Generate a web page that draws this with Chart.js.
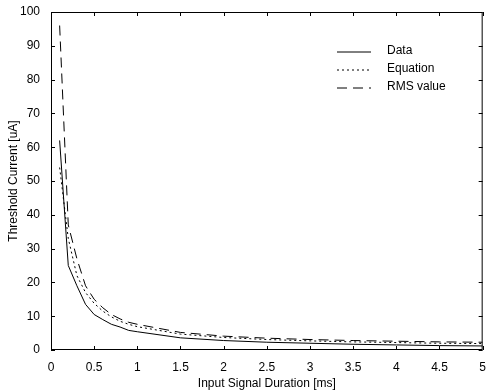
<!DOCTYPE html>
<html>
<head>
<meta charset="utf-8">
<script src="https://cdn.jsdelivr.net/npm/chart.js@4"></script>
<style>
  html, body { margin: 0; padding: 0; background: #fff; }
  #wrap { width: 488px; height: 391px; }
</style>
</head>
<body>
<div id="wrap"><canvas id="chart"></canvas></div>
<script>
// Input signal duration [ms]
const durations = [0.1, 0.2, 0.3, 0.4, 0.5, 0.6, 0.7, 0.8, 0.9, 1.0, 1.5, 2, 2.5, 3, 3.5, 4, 4.5, 5];
// Threshold current [uA]
const dataValues = [62, 25, 19, 13.5, 10.5, 9, 7.6, 6.8, 5.8, 5.4, 3.6, 2.8, 2.3, 2.0, 1.7, 1.5, 1.3, 1.2];
const equationValues = [54, 33, 22, 17, 13.8, 11.5, 9.8, 8.5, 7.6, 6.9, 4.7, 3.7, 3.1, 2.7, 2.4, 2.2, 2.0, 1.9];
const rmsValues = [96, 37, 27, 19, 15, 12.5, 10.5, 9.2, 8.2, 7.6, 5.2, 4.1, 3.5, 3.1, 2.8, 2.6, 2.4, 2.3];
const xTicks = [0, 0.5, 1, 1.5, 2, 2.5, 3, 3.5, 4, 4.5, 5];
const yTicks = [0, 10, 20, 30, 40, 50, 60, 70, 80, 90, 100];

const pts = vals => durations.map((d, i) => ({ x: d, y: vals[i] }));
const FONT = 'Liberation Sans, Arial, sans-serif';

// draws the box, inward ticks and the legend inside the plot
const matlabAxes = {
    id: 'matlabAxes',
    afterDraw(chart) {
        const c = chart.ctx;
        const a = chart.chartArea;
        const xs = chart.scales.x, ys = chart.scales.y;
        c.save();
        c.strokeStyle = '#000';
        c.lineWidth = 1;
        c.setLineDash([]);
        c.strokeRect(a.left + 0.5, a.top + 0.5, a.right - a.left - 1, a.bottom - a.top - 1);
        c.beginPath();
        xTicks.forEach(v => {
            const px = Math.round(xs.getPixelForValue(v)) + 0.5;
            c.moveTo(px, a.bottom); c.lineTo(px, a.bottom - 4);
            c.moveTo(px, a.top); c.lineTo(px, a.top + 4);
        });
        yTicks.forEach(v => {
            const py = Math.round(ys.getPixelForValue(v)) + 0.5;
            c.moveTo(a.left, py); c.lineTo(a.left + 4, py);
            c.moveTo(a.right, py); c.lineTo(a.right - 4, py);
        });
        c.stroke();

        // legend
        c.font = '12px ' + FONT;
        c.fillStyle = '#000';
        c.textBaseline = 'middle';
        chart.data.datasets.forEach((ds, i) => {
            const y = 52 + i * 18;
            c.beginPath();
            c.setLineDash(ds.borderDash || []);
            c.moveTo(337, y); c.lineTo(371, y);
            c.stroke();
            c.fillText(ds.label, 387, y - 1);
        });
        c.restore();
    }
};

new Chart(document.getElementById('chart'), {
    type: 'line',
    data: {
        datasets: [
            { label: 'Data', data: pts(dataValues), borderColor: '#000', borderWidth: 1, pointRadius: 0, tension: 0 },
            { label: 'Equation', data: pts(equationValues), borderColor: '#000', borderWidth: 1, borderDash: [2, 3], pointRadius: 0, tension: 0 },
            { label: 'RMS value', data: pts(rmsValues), borderColor: '#000', borderWidth: 1, borderDash: [10, 6], pointRadius: 0, tension: 0 }
        ]
    },
    options: {
        responsive: true,
        maintainAspectRatio: false,
        animation: false,
        layout: { padding: { top: 12, right: 5, left: 6, bottom: 0 } },
        plugins: { legend: { display: false }, tooltip: { enabled: false } },
        scales: {
            x: {
                type: 'linear',
                min: 0,
                max: 5,
                afterBuildTicks: s => { s.ticks = xTicks.map(v => ({ value: v })); },
                afterFit: s => { s.height = 41; },
                ticks: { color: '#000', font: { family: FONT, size: 12 }, padding: 2, maxRotation: 0, callback: v => String(v) },
                grid: { display: false },
                border: { display: false },
                title: { display: true, text: 'Input Signal Duration [ms]', color: '#000', font: { family: FONT, size: 12 }, padding: { top: 1, bottom: 0 } }
            },
            y: {
                min: 0,
                max: 100,
                afterBuildTicks: s => { s.ticks = yTicks.map(v => ({ value: v })); },
                afterFit: s => { s.width = 45; },
                ticks: { color: '#000', font: { family: FONT, size: 12 }, padding: 3, callback: v => String(v) },
                grid: { display: false },
                border: { display: false },
                title: { display: true, text: 'Threshold Current [uA]', color: '#000', font: { family: FONT, size: 12 }, padding: { top: 0, bottom: 2 } }
            }
        }
    },
    plugins: [matlabAxes]
});
</script>
</body>
</html>
